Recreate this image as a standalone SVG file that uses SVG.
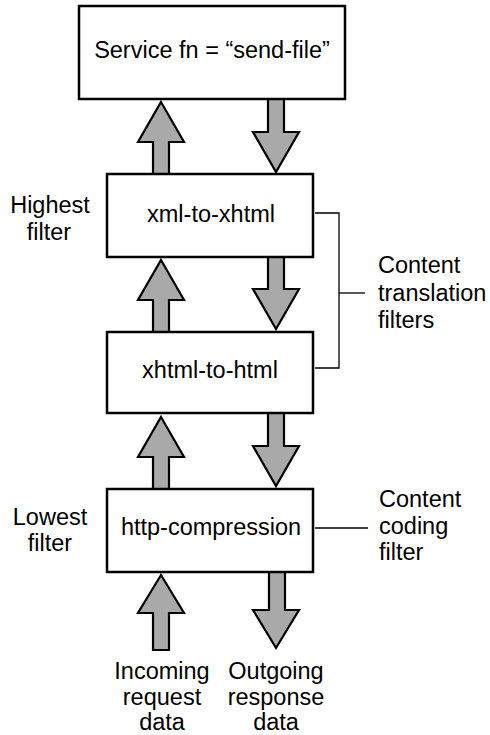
<svg xmlns="http://www.w3.org/2000/svg" width="490" height="735" viewBox="0 0 490 735">
<style>
.box{fill:#fff;stroke:#000;stroke-width:2.5}
.arr{fill:#a9a9a9;stroke:#000;stroke-width:2.2;stroke-linejoin:miter}
.ln{fill:none;stroke:#000;stroke-width:1.3}
text{font-family:"Liberation Sans",Arial,sans-serif;font-size:23.5px;fill:#000}
.c{text-anchor:middle}
</style>
<rect width="490" height="735" fill="#fff"/>
<g id="connectors">
<polygon class="arr" points="161,102 184,142 169,142 169,174 153,174 153,142 138,142"/>
<polygon class="arr" points="268,99 284,99 284,132 299,132 276,172 253,132 268,132"/>
<polygon class="arr" points="161,260 184,300 169,300 169,332 153,332 153,300 138,300"/>
<polygon class="arr" points="268,257 284,257 284,289 299,289 276,329 253,289 268,289"/>
<polygon class="arr" points="161,417 184,457 169,457 169,489 153,489 153,457 138,457"/>
<polygon class="arr" points="268,413 284,413 284,446 299,446 276,486 253,446 268,446"/>
<polygon class="arr" points="161,575 184,613 169,613 169,650 153,650 153,613 138,613"/>
<polygon class="arr" points="269,572 285,572 285,610 299,610 276,648 253,610 269,610"/>
<polyline class="ln" points="315,213 339,213 339,368 315,368"/>
<line class="ln" x1="339" y1="293" x2="365" y2="293"/>
<line class="ln" x1="315" y1="528" x2="368" y2="528"/>
</g>
<g id="service">
<rect class="box" x="79" y="6" width="266" height="93"/>
<text class="c" x="212" y="58">Service fn = “send-file”</text>
</g>
<g id="xml-to-xhtml">
<rect class="box" x="107" y="174" width="206" height="83"/>
<text class="c" x="211" y="222">xml-to-xhtml</text>
</g>
<g id="xhtml-to-html">
<rect class="box" x="107" y="332" width="206" height="81"/>
<text class="c" x="210" y="378">xhtml-to-html</text>
</g>
<g id="http-compression">
<rect class="box" x="107" y="489" width="206" height="83"/>
<text class="c" x="211" y="535">http-compression</text>
</g>
<g id="highest-label">
<text class="c" x="50" y="213">Highest</text>
<text class="c" x="49" y="240">filter</text>
</g>
<g id="lowest-label">
<text class="c" x="50" y="525">Lowest</text>
<text class="c" x="50" y="551">filter</text>
</g>
<g id="translation-label">
<text x="378" y="273">Content</text>
<text x="378" y="301">translation</text>
<text x="378" y="328">filters</text>
</g>
<g id="coding-label">
<text x="379" y="507">Content</text>
<text x="379" y="534">coding</text>
<text x="379" y="560">filter</text>
</g>
<g id="incoming-label">
<text class="c" x="162" y="679">Incoming</text>
<text class="c" x="162" y="705">request</text>
<text class="c" x="162" y="730">data</text>
</g>
<g id="outgoing-label">
<text class="c" x="276" y="679">Outgoing</text>
<text class="c" x="276" y="705">response</text>
<text class="c" x="276" y="730">data</text>
</g>
</svg>
